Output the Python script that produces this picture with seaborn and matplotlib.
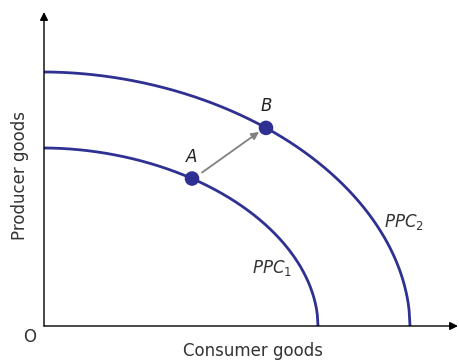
import numpy as np
import pandas as pd
import matplotlib
matplotlib.use("Agg")
import matplotlib.pyplot as plt
import seaborn as sns

# curve intercepts (consumer goods, producer goods)
curve_names = ["PPC1", "PPC2"]
x_intercepts = [274, 366]
y_intercepts = [178, 254]
curve_power = 1.93

# points A and B (consumer goods value, curve they sit on)
point_labels = ["A", "B"]
point_x = [148, 222]
point_curve = [0, 1]

BLUE = "#2e3192"

sns.set_theme(style="white")
plt.rcParams["font.family"] = ["DejaVu Sans"]
plt.rcParams["mathtext.fontset"] = "dejavusans"


def ppc_y(x, a, b, p=curve_power):
    return b * np.clip(1 - (x / a) ** p, 0, None) ** (1 / p)


rows = []
for name, a, b in zip(curve_names, x_intercepts, y_intercepts):
    xs = np.linspace(0, a, 400)
    rows.append(pd.DataFrame({"consumer": xs, "producer": ppc_y(xs, a, b), "curve": name}))
curves = pd.concat(rows, ignore_index=True)

pts = pd.DataFrame({
    "label": point_labels,
    "consumer": point_x,
    "producer": [ppc_y(x, x_intercepts[c], y_intercepts[c]) for x, c in zip(point_x, point_curve)],
})

fig = plt.figure(figsize=(4.6, 3.6), dpi=100)
ax = fig.add_axes([44 / 460, 34 / 360, 414 / 460, 314 / 360])
ax.set_xlim(0, 414)
ax.set_ylim(0, 314)

sns.lineplot(data=curves, x="consumer", y="producer", units="curve", estimator=None,
             color=BLUE, lw=2, ax=ax, sort=False)
sns.scatterplot(data=pts, x="consumer", y="producer", color=BLUE, s=110,
                edgecolor="none", ax=ax, zorder=5)

for spine in ax.spines.values():
    spine.set_visible(False)
ax.set_xticks([])
ax.set_yticks([])
ax.set_xlabel("")
ax.set_ylabel("")

# axes with arrowheads
ax.annotate("", xy=(0, 1), xytext=(0, 0), xycoords="axes fraction",
            arrowprops=dict(arrowstyle="-|>", color="black", lw=1.0, mutation_scale=12,
                            shrinkA=0, shrinkB=0), annotation_clip=False)
ax.annotate("", xy=(1, 0), xytext=(0, 0), xycoords="axes fraction",
            arrowprops=dict(arrowstyle="-|>", color="black", lw=1.0, mutation_scale=12,
                            shrinkA=0, shrinkB=0), annotation_clip=False)

# shift arrow from A to B
ax0, ay0 = pts.loc[0, "consumer"], pts.loc[0, "producer"]
bx0, by0 = pts.loc[1, "consumer"], pts.loc[1, "producer"]
ax.annotate("", xy=(bx0 - 7, by0 - 4), xytext=(ax0 + 10, ay0 + 6),
            arrowprops=dict(arrowstyle="-|>", color="#808080", lw=1.3, mutation_scale=11,
                            shrinkA=0, shrinkB=0))

for lab, x, y in zip(pts["label"], pts["consumer"], pts["producer"]):
    ax.text(x, y + 13, lab, ha="center", va="bottom", fontsize=12, style="italic",
            color="#222222")

ax.text(208, 58, r"$PPC_1$", ha="left", va="center", fontsize=12, color="#333333")
ax.text(340, 104, r"$PPC_2$", ha="left", va="center", fontsize=12, color="#333333")

fig.text(30 / 460, 1 - 337 / 360, "O", ha="center", va="center", fontsize=12, color="#333333")
fig.text(253 / 460, 1 - 351 / 360, "Consumer goods", ha="center", va="center",
         fontsize=12, color="#333333")
fig.text(20 / 460, 1 - 176 / 360, "Producer goods", ha="center", va="center",
         fontsize=12, rotation=90, color="#333333")

fig.savefig("out.png", dpi=100, facecolor="white")
